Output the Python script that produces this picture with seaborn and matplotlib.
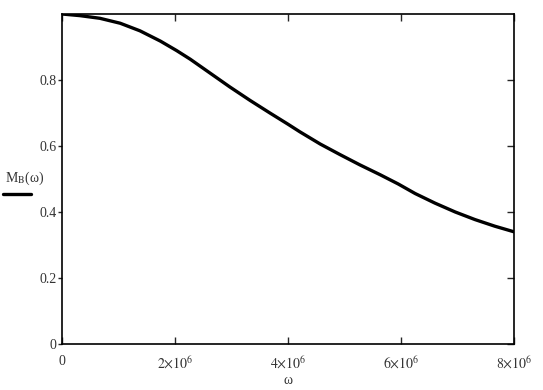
import matplotlib.pyplot as plt
import matplotlib.lines as mlines
import pandas as pd
import seaborn as sns

# values
OMEGA = [0.0, 0.32e6, 0.67e6, 1.03e6, 1.38e6, 1.74e6, 2.03e6, 2.27e6,
         2.62e6, 2.97e6, 3.33e6, 3.68e6, 4.00e6, 4.21e6, 4.57e6, 4.92e6,
         5.27e6, 5.63e6, 5.95e6, 6.25e6, 6.60e6, 6.96e6, 7.31e6, 7.66e6,
         8.00e6]
MB = [1.000, 0.995, 0.987, 0.972, 0.949, 0.918, 0.889, 0.863,
      0.821, 0.779, 0.738, 0.700, 0.666, 0.643, 0.606, 0.574,
      0.543, 0.513, 0.485, 0.456, 0.427, 0.400, 0.377, 0.357,
      0.340]
X_TICKS = [0, 2e6, 4e6, 6e6, 8e6]
X_LABELS = ["0", r"$2{\times}10^{6}$", r"$4{\times}10^{6}$",
            r"$6{\times}10^{6}$", r"$8{\times}10^{6}$"]
Y_TICKS = [0, 0.2, 0.4, 0.6, 0.8]
Y_LABELS = ["0", "0.2", "0.4", "0.6", "0.8"]

sns.set_style("ticks")
plt.rcParams["font.family"] = ["Liberation Serif", "DejaVu Serif"]
plt.rcParams["mathtext.fontset"] = "stix"

df = pd.DataFrame({"omega": OMEGA, "MB": MB})

fig = plt.figure(figsize=(5.43, 3.90), dpi=100)
ax = fig.add_axes([62 / 543, 1 - 344 / 390, 452 / 543, 330 / 390])

sns.lineplot(data=df, x="omega", y="MB", ax=ax, color="black", linewidth=2.4)

ax.set_xlim(0, 8e6)
ax.set_ylim(0, 1)
ax.set_xticks(X_TICKS)
ax.set_xticklabels(X_LABELS)
ax.set_yticks(Y_TICKS)
ax.set_yticklabels(Y_LABELS)
ax.set_xlabel("")
ax.set_ylabel("")

for sp in ax.spines.values():
    sp.set_visible(True)
    sp.set_color("black")
    sp.set_linewidth(1.2)

ax.tick_params(axis="x", direction="in", length=5, width=1, top=True,
               bottom=True, pad=8, labelsize=10, labelcolor="#333333")
ax.tick_params(axis="y", direction="out", length=3, width=1, left=True,
               right=False, pad=1, labelsize=10, labelcolor="#333333")

sec = ax.secondary_yaxis("right")
sec.set_yticks(Y_TICKS)
sec.tick_params(direction="in", length=5, width=1, labelright=False)
sec.spines["right"].set_visible(False)

fig.text(288 / 543, 1 - 380 / 390, "ω", ha="center", va="center",
         fontsize=10, color="#333333")
fig.text(5 / 543, 1 - 178 / 390, r"M$_\mathrm{B}$(ω)", ha="left",
         va="center", fontsize=10, color="#333333")
fig.add_artist(mlines.Line2D([3 / 543, 31 / 543], [1 - 194 / 390] * 2,
                             color="black", linewidth=2.4))

fig.savefig("out.png", dpi=100)
